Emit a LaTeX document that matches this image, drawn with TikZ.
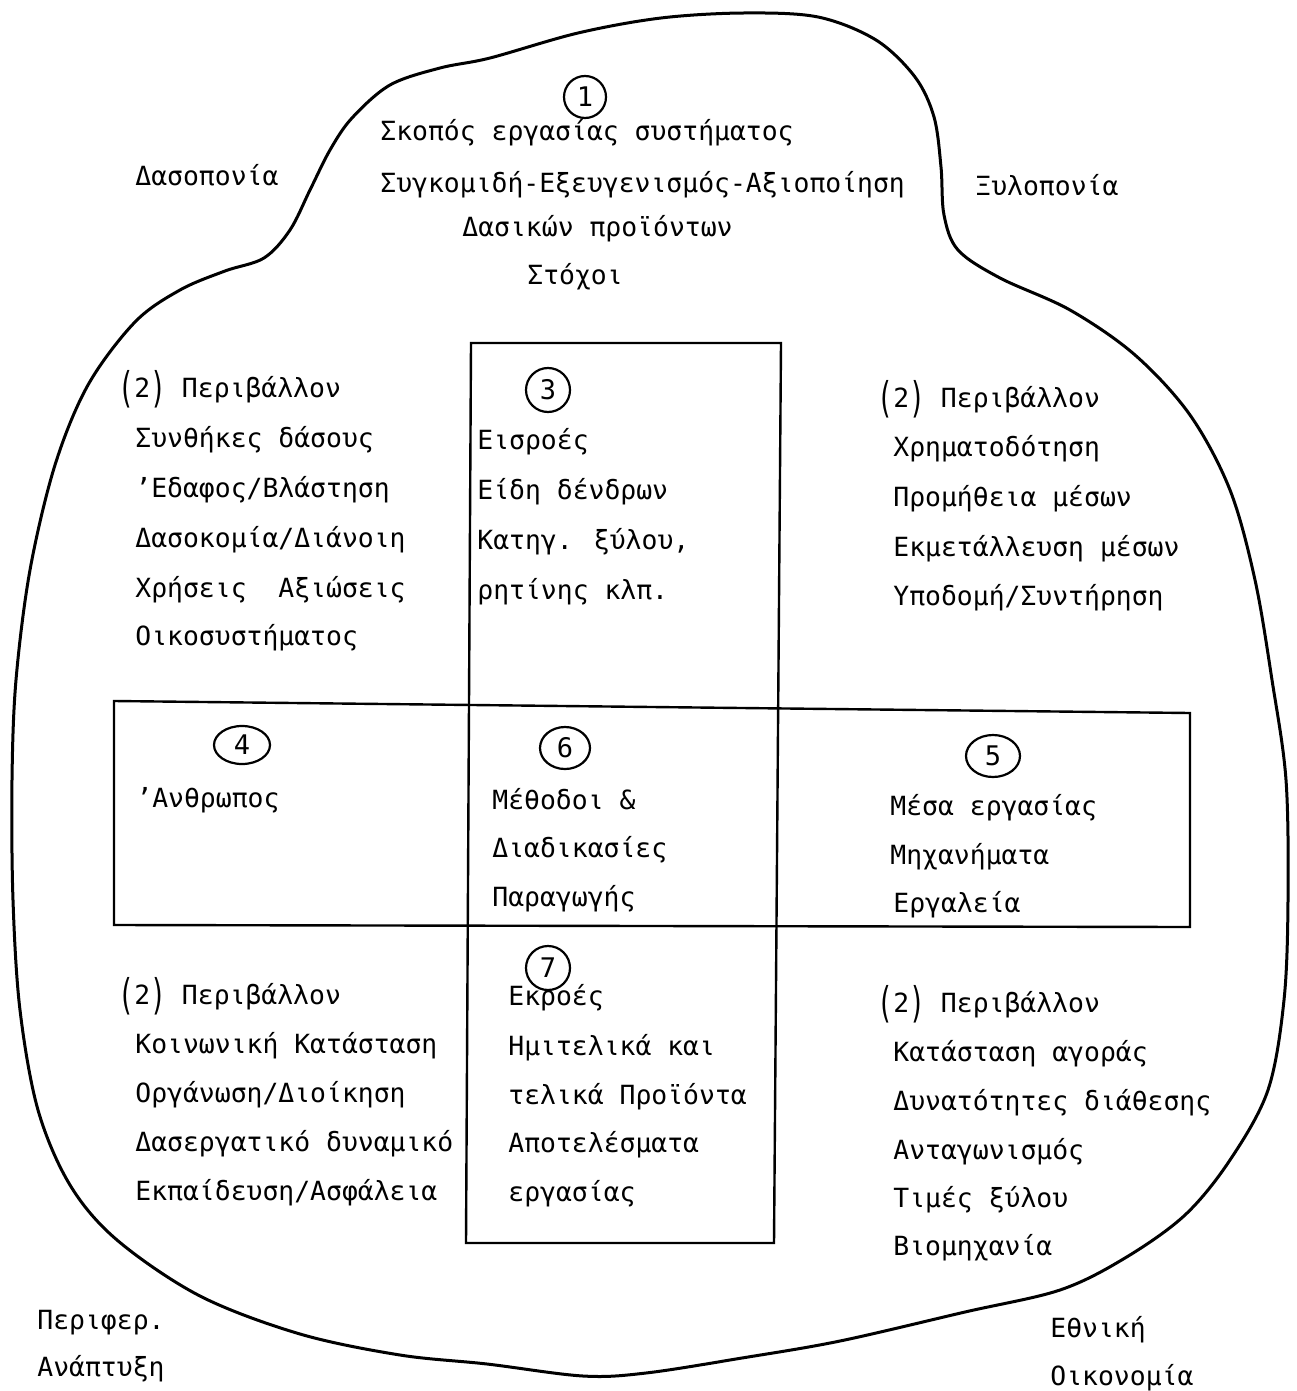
\documentclass[tikz,border=0pt]{standalone}
\usepackage{fontspec}
\usepackage{graphicx}
\newfontfamily\tw{DejaVu Sans Mono}
\usetikzlibrary{shapes.geometric}
\newcommand\bpl{\raisebox{-0.22em}{\scalebox{1}[1.6]{(}}}
\newcommand\bpr{\raisebox{-0.22em}{\scalebox{1}[1.6]{)}}}
\tikzset{
  txt/.style={anchor=base west, inner sep=0pt, font=\tw\fontsize{13.2}{15}\selectfont},
  num/.style={draw, ellipse, line width=1.1pt, inner sep=0pt, font=\tw\fontsize{13.5}{15}\selectfont},
  frame/.style={line width=1.2pt, line join=miter},
  blob/.style={line width=1.5pt, line join=round}
}
\begin{document}
\begin{tikzpicture}[x=0.5pt, y=-0.5pt]
\useasboundingbox (0,0) rectangle (1296,1391);
\fill[white] (0,0) rectangle (1296,1391);

% outline of the system
\draw[blob] plot[smooth cycle, tension=0.55] coordinates {
 (941,167) (944,215) (958,250) (1000,278) (1070,310) (1135,355) (1190,415)
 (1230,490) (1255,580) (1272,680) (1286,780) (1288,900) (1284,1000)
 (1268,1090) (1230,1160) (1185,1215) (1125,1258) (1060,1290) (965,1312)
 (840,1341) (742,1358) (646,1373) (583,1376) (487,1364) (400,1355)
 (300,1334) (200,1296) (117,1240) (70,1185) (38,1110) (20,1010) (13,900)
 (12,780) (16,680) (30,570) (55,465) (88,385) (135,322) (180,290)
 (225,271) (264,258) (290,230) (310,190) (330,150) (352,118) (390,85)
 (440,68) (490,58) (578,33) (661,18) (744,13) (818,17) (876,40)
 (915,77) (934,117)};

% cross of boxes
\draw[frame] (471,343) -- (781,343) -- (774,1243) -- (466,1243) -- cycle;
\draw[frame] (114,701) -- (1190,713) -- (1190,927) -- (114,925) -- cycle;

% circled numbers
\node[num, minimum width=21pt, minimum height=21pt] (c1) at (585,97) {1};
\node[num, minimum width=22pt, minimum height=22pt] (c3) at (548,390) {3};
\node[num, minimum width=28pt, minimum height=19pt] (c4) at (242,745) {4};
\node[num, minimum width=25pt, minimum height=21pt] (c6) at (565,748) {6};
\node[num, minimum width=27pt, minimum height=21pt] (c5) at (993,756) {5};
\node[num, minimum width=22pt, minimum height=22pt] (c7) at (548,968) {7};

% top
\node[txt] (dasop) at (135,186) {Δασοπονία};
\node[txt] (s1) at (380,141) {Σκοπός εργασίας συστήματος};
\node[txt] (s2) at (380,193) {Συγκομιδή-Εξευγενισμός-Αξιοποίηση};
\node[txt] (s3) at (462,237) {Δασικών προϊόντων};
\node[txt] (s4) at (527,285) {Στόχοι};
\node[txt] (xylo) at (975,196) {Ξυλοπονία};

% upper left
\node[txt] (ul0) at (118,397) {\bpl2\bpr{} Περιβάλλον};
\node[txt] (ul1) at (135,447) {Συνθήκες δάσους};
\node[txt] (ul2) at (135,497) {’Εδαφος/Βλάστηση};
\node[txt] (ul3) at (135,547) {Δασοκομία/Διάνοιη};
\node[txt] (ul4) at (135,597) {Χρήσεις\ \ Αξιώσεις};
\node[txt] (ul5) at (135,645) {Οικοσυστήματος};

% box 3
\node[txt] (b31) at (477,449) {Εισροές};
\node[txt] (b32) at (477,499) {Είδη δένδρων};
\node[txt] (b33) at (477,549) {Κατηγ. ξύλου,};
\node[txt] (b34) at (477,599) {ρητίνης κλπ.};

% upper right
\node[txt] (ur0) at (877,407) {\bpl2\bpr{} Περιβάλλον};
\node[txt] (ur1) at (893,456) {Χρηματοδότηση};
\node[txt] (ur2) at (893,506) {Προμήθεια μέσων};
\node[txt] (ur3) at (893,556) {Εκμετάλλευση μέσων};
\node[txt] (ur4) at (893,605) {Υποδομή/Συντήρηση};

% middle band
\node[txt] (b41) at (136,807) {’Ανθρωπος};
\node[txt] (b61) at (492,809) {Μέθοδοι \&};
\node[txt] (b62) at (492,857) {Διαδικασίες};
\node[txt] (b63) at (492,906) {Παραγωγής};
\node[txt] (b51) at (890,815) {Μέσα εργασίας};
\node[txt] (b52) at (890,864) {Μηχανήματα};
\node[txt] (b53) at (893,912) {Εργαλεία};

% lower left
\node[txt] (ll0) at (118,1004) {\bpl2\bpr{} Περιβάλλον};
\node[txt] (ll1) at (135,1053) {Κοινωνική Κατάσταση};
\node[txt] (ll2) at (135,1102) {Οργάνωση/Διοίκηση};
\node[txt] (ll3) at (135,1151) {Δασεργατικό δυναμικό};
\node[txt] (ll4) at (135,1200) {Εκπαίδευση/Ασφάλεια};

% box 7
\node[txt] (b71) at (508,1005) {Εκροές};
\node[txt] (b72) at (508,1055) {Ημιτελικά και};
\node[txt] (b73) at (508,1104) {τελικά Προϊόντα};
\node[txt] (b74) at (508,1152) {Αποτελέσματα};
\node[txt] (b75) at (508,1201) {εργασίας};

% lower right
\node[txt] (lr0) at (877,1012) {\bpl2\bpr{} Περιβάλλον};
\node[txt] (lr1) at (893,1061) {Κατάσταση αγοράς};
\node[txt] (lr2) at (893,1110) {Δυνατότητες διάθεσης};
\node[txt] (lr3) at (893,1159) {Ανταγωνισμός};
\node[txt] (lr4) at (893,1207) {Τιμές ξύλου};
\node[txt] (lr5) at (893,1255) {Βιομηχανία};

% outside corners
\node[txt] (pa1) at (37,1329) {Περιφερ.};
\node[txt] (pa2) at (37,1376) {Ανάπτυξη};
\node[txt] (eo1) at (1050,1337) {Εθνική};
\node[txt] (eo2) at (1050,1385) {Οικονομία};
\end{tikzpicture}
\end{document}
